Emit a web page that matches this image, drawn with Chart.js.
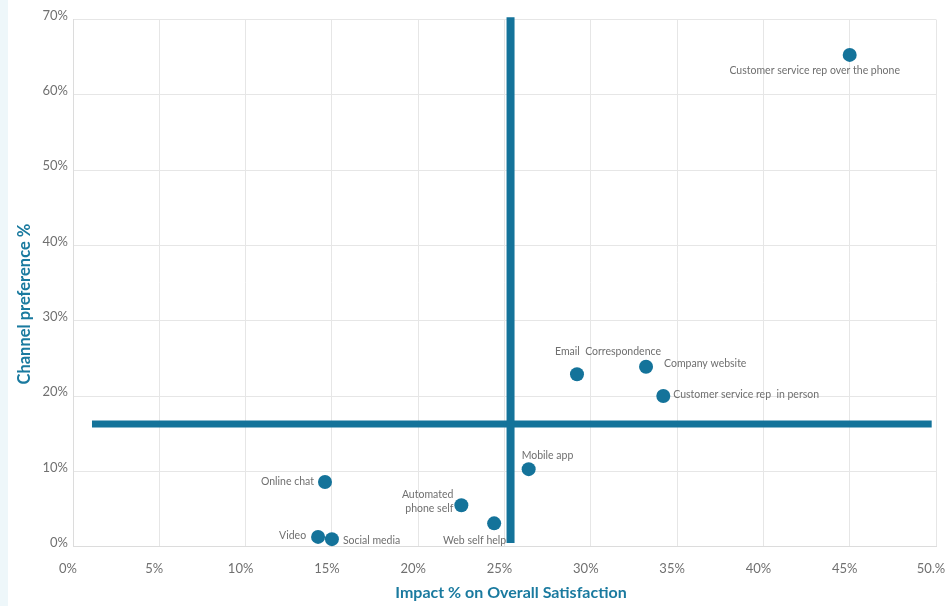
<!DOCTYPE html>
<html>
<head>
<meta charset="utf-8">
<script src="https://cdn.jsdelivr.net/npm/chart.js@4/dist/chart.umd.min.js"></script>
<style>
  html, body { margin: 0; padding: 0; background: #fff; }
  body { width: 952px; height: 606px; background: linear-gradient(to right, #eef7fa 0, #eef7fa 8px, #fff 8px); }
  #wrap { position: absolute; left: 0; top: 0; width: 952px; height: 606px; }
</style>
</head>
<body>
<div id="wrap"><canvas id="c" width="952" height="606"></canvas></div>
<script>
// ---- data ----
const channels = [
  "Customer service rep over the phone",
  "Email  Correspondence",
  "Company website",
  "Customer service rep  in person",
  "Mobile app",
  "Online chat",
  ["Automated", "phone self"],
  "Web self help",
  "Video",
  "Social media"
];
const impactPct = [45.0, 29.2, 33.2, 34.2, 26.4, 14.6, 22.5, 24.4, 14.2, 15.0];
const preferencePct = [65.3, 22.9, 23.9, 20.0, 10.3, 8.6, 5.5, 3.1, 1.3, 1.0];
const xTickLabels = ["0%", "5%", "10%", "15%", "20%", "25%", "30%", "35%", "40%", "45%", "50.%"];
const yTickLabels = ["0%", "10%", "20%", "30%", "40%", "50%", "60%", "70%"];
const xTitle = "Impact % on Overall Satisfaction";
const yTitle = "Channel preference %";
// quadrant divider lines
const vDividerX = [25.35, 25.35];
const vDividerY = [70.3, 0.5];
const hDividerX = [1.1, 49.75];
const hDividerY = [16.3, 16.3];

// ---- label placement (style only) ----
const labelPlacement = [
  {align: "center", dx: -35, dy: 16},
  {align: "left", dx: -22, dy: -23},
  {align: "left", dx: 18, dy: -3},
  {align: "left", dx: 10, dy: -1},
  {align: "left", dx: -7, dy: -14},
  {align: "right", dx: -11, dy: 0},
  {align: "right", dx: -8, dy: -11},
  {align: "right", dx: 12, dy: 17},
  {align: "right", dx: -12, dy: -1},
  {align: "left", dx: 11, dy: 1}
];

const TEAL = "#14739a";
const TITLE = "#1a7a9f";

const labelPlugin = {
  id: "pointLabels",
  afterDatasetsDraw(chart) {
    const meta = chart.getDatasetMeta(2);
    const ctx = chart.ctx;
    ctx.save();
    ctx.font = "10.5px Lato";
    ctx.fillStyle = "#6f6f6f";
    ctx.textBaseline = "middle";
    meta.data.forEach((pt, i) => {
      const p = labelPlacement[i];
      ctx.textAlign = p.align;
      const lines = Array.isArray(channels[i]) ? channels[i] : [channels[i]];
      lines.forEach((ln, k) => {
        ctx.fillText(ln, pt.x + p.dx, pt.y + p.dy + k * 14);
      });
    });
    ctx.restore();
  }
};

const titlePlugin = {
  id: "axisTitles",
  afterDraw(chart) {
    const ctx = chart.ctx;
    const a = chart.chartArea;
    ctx.save();
    ctx.fillStyle = TITLE;
    ctx.font = "bold 16px Lato";
    ctx.textAlign = "center";
    ctx.textBaseline = "middle";
    ctx.fillText(xTitle, (a.left + a.right) / 2 + 6.5, 592.5);
    ctx.translate(25, (a.top + a.bottom) / 2 + 21);
    ctx.rotate(-Math.PI / 2);
    ctx.font = "bold 16.5px Lato";
    ctx.fillText(yTitle, 0, 0);
    ctx.restore();
  }
};

new Chart(document.getElementById("c"), {
  type: "scatter",
  data: {
    datasets: [
      {
        type: "line",
        data: vDividerX.map((x, i) => ({x, y: vDividerY[i]})),
        borderColor: TEAL, borderWidth: 8, pointRadius: 0, borderCapStyle: "butt",
        clip: false, order: 2
      },
      {
        type: "line",
        data: hDividerX.map((x, i) => ({x, y: hDividerY[i]})),
        borderColor: TEAL, borderWidth: 7, pointRadius: 0, borderCapStyle: "butt",
        clip: false, order: 2
      },
      {
        data: impactPct.map((x, i) => ({x, y: preferencePct[i]})),
        backgroundColor: TEAL, borderColor: TEAL, pointRadius: 7, pointHoverRadius: 7,
        borderWidth: 0, order: 1
      }
    ]
  },
  options: {
    responsive: false,
    animation: false,
    devicePixelRatio: 1,
    layout: { padding: { top: 19.5, right: 16, left: 0, bottom: 0 } },
    plugins: { legend: { display: false }, tooltip: { enabled: false } },
    scales: {
      x: {
        type: "linear", min: 0, max: 50,
        afterFit(s) { s.height = 59.3; s.paddingLeft = 0; s.paddingRight = 0; },
        afterBuildTicks(s) { s.ticks = xTickLabels.map((_, i) => ({value: i * 5})); },
        ticks: {
          callback: (v, i) => xTickLabels[i],
          font: { family: "Lato", size: 13 }, color: "#707070",
          padding: 14, labelOffset: -5, maxRotation: 0, autoSkip: false
        },
        grid: { color: "#e6e6e6", drawTicks: false, lineWidth: 1 },
        border: { color: "#dcdcdc" },
        title: { display: false }
      },
      y: {
        type: "linear", min: 0, max: 70,
        afterFit(s) { s.width = 73; s.paddingTop = 0; s.paddingBottom = 0; },
        afterBuildTicks(s) { s.ticks = yTickLabels.map((_, i) => ({value: i * 10})); },
        ticks: {
          callback: (v, i) => yTickLabels[i],
          font: { family: "Lato", size: 13 }, color: "#707070",
          padding: 5, labelOffset: -4, autoSkip: false
        },
        grid: { color: "#e6e6e6", drawTicks: false, lineWidth: 1 },
        border: { color: "#dcdcdc" },
        title: { display: false }
      }
    }
  },
  plugins: [labelPlugin, titlePlugin]
});
</script>
</body>
</html>
